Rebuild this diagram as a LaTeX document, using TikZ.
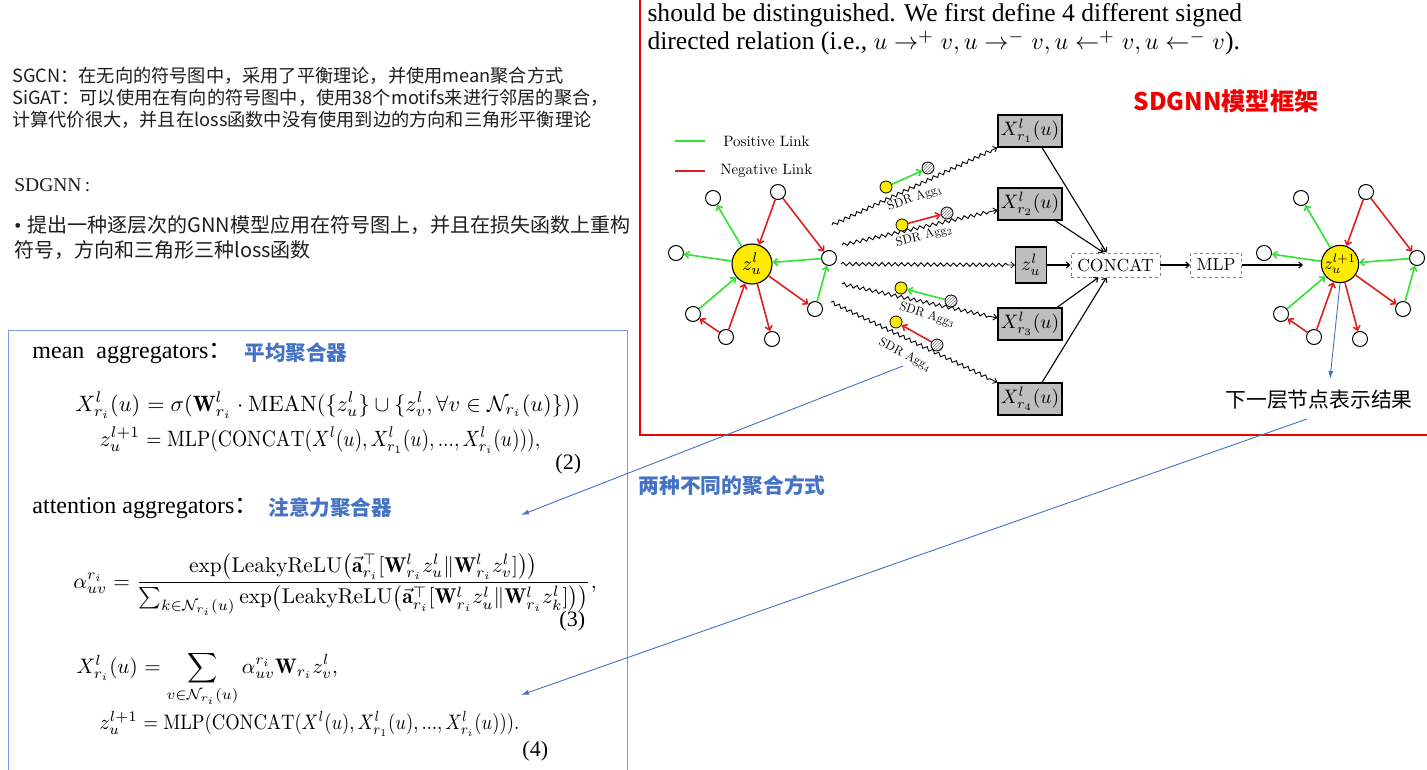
\documentclass[tikz,border=0pt]{standalone}
\usepackage{fontspec}
\usepackage{amsmath}
\usepackage{graphicx}
\usetikzlibrary{arrows.meta,decorations.pathmorphing,patterns,calc}
\newfontfamily\cjk{Noto Sans CJK SC}
\newfontfamily\tms{Liberation Serif}
\definecolor{txtgray}{RGB}{30,30,30}
\definecolor{myblue}{RGB}{68,114,196}
\definecolor{boxblue}{RGB}{120,155,225}
\definecolor{lgreen}{RGB}{50,225,50}
\definecolor{lred}{RGB}{225,30,30}
\definecolor{nodey}{RGB}{255,235,0}
\definecolor{boxgray}{RGB}{190,190,190}
\definecolor{titlered}{RGB}{240,0,0}

\newcommand\signgraph[4]{%
\begin{scope}[shift={(#2,0)}]
\node[ynode,minimum size=#3] (#1c) at (752,264) {#4};
\node[snode] (#1A) at (713,198) {};
\node[snode] (#1B) at (778,192) {};
\node[snode] (#1C) at (676,253) {};
\node[snode] (#1D) at (829,258) {};
\node[snode] (#1E) at (693,314) {};
\node[snode] (#1F) at (815,309) {};
\node[snode] (#1G) at (726,337) {};
\node[snode] (#1H) at (772,339) {};
\end{scope}
\draw[posedge] (#1c) -- (#1A);
\draw[posedge] (#1c) -- (#1C);
\draw[negedge] (#1B) -- (#1c);
\draw[negedge] (#1B) -- (#1D);
\draw[posedge] (#1D) -- (#1c);
\draw[posedge] (#1F) -- (#1D);
\draw[negedge] (#1c) -- (#1F);
\draw[negedge] (#1c) -- (#1H);
\draw[negedge] (#1G) -- (#1c);
\draw[posedge] (#1E) -- (#1c);
\draw[negedge] (#1G) -- (#1E);
}

\begin{document}
\begin{tikzpicture}[x=1pt,y=-1pt,
  txt/.style={anchor=west,inner sep=0pt},
  lhs/.style={anchor=base west,inner sep=0pt},
  rhs/.style={anchor=base west,inner sep=0pt},
  ynode/.style={circle,draw,line width=1.1pt,fill=nodey,inner sep=0pt},
  snode/.style={circle,draw,line width=1pt,fill=white,inner sep=0pt,minimum size=15pt},
  posedge/.style={draw=lgreen,line width=1.6pt,-{Straight Barb[length=4pt,width=7pt]}},
  negedge/.style={draw=lred,line width=1.6pt,-{Straight Barb[length=4pt,width=7pt]}},
  gbox/.style={draw,line width=1.1pt,fill=boxgray,inner sep=0pt,minimum width=64pt,minimum height=32pt},
  dbox/.style={draw=gray,dashed,line width=0.9pt,inner sep=0pt,minimum height=24pt},
  blk/.style={line width=1.1pt,-{Straight Barb[length=3.5pt,width=6pt]}},
  wavy/.style={decorate,decoration={snake,amplitude=1.7pt,segment length=6.5pt,post length=6pt},line width=0.9pt,-{Straight Barb[length=3.5pt,width=6pt]}},
  ysm/.style={circle,draw,line width=0.8pt,fill=nodey,inner sep=0pt,minimum size=12pt},
  hsm/.style={circle,draw,line width=0.8pt,inner sep=0pt,minimum size=12pt,pattern=north east lines,pattern color=gray},
  barrow/.style={draw=myblue,line width=0.9pt,-{Latex[length=8pt,width=5pt]}},
]
\fill[white] (0,0) rectangle (1427,770);
\useasboundingbox (0,0) rectangle (1427,770);

% frames
\draw[titlered,line width=1.3pt] (640,-5) -- (640,435) -- (1432,435);
\draw[boxblue,line width=1pt] (8,775) -- (8,330) -- (627,330) -- (627,775);

% top-left text
\node[txt,scale=1.82,text=txtgray] (t1) at (12,76) {\cjk SGCN：在无向的符号图中，采用了平衡理论，并使用mean聚合方式};
\node[txt,scale=1.82,text=txtgray] (t2) at (12,98) {\cjk SiGAT：可以使用在有向的符号图中，使用38个motifs来进行邻居的聚合，};
\node[txt,scale=1.82,text=txtgray] (t3) at (12,120) {\cjk 计算代价很大，并且在loss函数中没有使用到边的方向和三角形平衡理论};
\node[txt,scale=1.95,text=txtgray] (t4) at (14,185) {\tms SDGNN\,:};
\node[txt,scale=2.0,text=txtgray] (t5) at (14,225) {{\tms •}\hspace{0.3em}\cjk 提出一种逐层次的GNN模型应用在符号图上，并且在损失函数上重构};
\node[txt,scale=2.0,text=txtgray] (t6) at (14,250) {\cjk 符号，方向和三角形三种loss函数};

% top paragraph
\node[txt,scale=2.56] (p1) at (647,15) {\tms should be distinguished. We first define 4 different signed};
\node[txt,scale=2.56] (p2) at (647,43) {\tms directed relation (i.e., \scalebox{0.94}{$u\rightarrow^{+} v, u\rightarrow^{-} v, u\leftarrow^{+} v, u\leftarrow^{-} v$}).};

\node[txt,scale=2.43,text=titlered] (title) at (1133,101) {\cjk\bfseries SDGNN模型框架};

% legend
\coordinate (lg1a) at (675,141); \coordinate (lg1b) at (705,141);
\coordinate (lg2a) at (675,171); \coordinate (lg2b) at (705,171);
\draw[lgreen,line width=2pt] (lg1a) -- (lg1b);
\draw[lred,line width=2pt] (lg2a) -- (lg2b);
\node[txt,scale=1.5] (lgp) at (723,141) {Positive Link};
\node[txt,scale=1.5] (lgn) at (720,171) {Negative Link};

% graphs
\signgraph{L}{0}{40pt}{\scalebox{2}{$z^l_u$}}
\signgraph{R}{588}{34pt}{\scalebox{1.75}{$z^{l+1}_u$}}

% middle boxes
\node[gbox] (X1) at (1030,131) {\scalebox{1.95}{$X^l_{r_1}(u)$}};
\node[gbox] (X2) at (1030,204) {\scalebox{1.95}{$X^l_{r_2}(u)$}};
\node[gbox,minimum width=31pt,minimum height=36pt] (Zb) at (1031,265) {\scalebox{1.95}{$z^l_u$}};
\node[gbox] (X3) at (1030,324) {\scalebox{1.95}{$X^l_{r_3}(u)$}};
\node[gbox] (X4) at (1030,399) {\scalebox{1.95}{$X^l_{r_4}(u)$}};
\node[dbox,minimum width=89pt] (CC) at (1115.5,265) {\scalebox{1.75}{CONCAT}};
\node[dbox,minimum width=51pt] (MLP) at (1216,265) {\scalebox{1.75}{MLP}};

\draw[blk] ($(X1.south)+(12,0)$) -- ($(CC.north)+(-9,0)$);
\draw[blk] ($(X2.south)+(25,0)$) -- ($(CC.north)+(-12,0)$);
\draw[blk] (Zb) -- (CC);
\draw[blk] ($(X3.north)+(27,0)$) -- ($(CC.south)+(-17,0)$);
\draw[blk] ($(X4.north)+(12,0)$) -- ($(CC.south)+(-9,0)$);
\draw[blk] (CC) -- (MLP);
\coordinate (mlpend) at (1303,265);
\draw[blk] (MLP) -- (mlpend);

% wavy aggregations
\coordinate (w1) at (832,225);
\coordinate (w2) at (842,245);
\coordinate (w0) at (841,264);
\coordinate (w3) at (842,284);
\coordinate (w4) at (831,302);
\draw[wavy] (w1) -- (X1.south west);
\draw[wavy] (w2) -- ($(X2.west)+(0,6)$);
\draw[wavy] (w0) -- (Zb.west);
\draw[wavy] (w3) -- ($(X3.west)+(0,-6)$);
\draw[wavy] (w4) -- (X4.north west);

\node[ysm] (y1) at (886,187) {}; \node[hsm] (h1) at (928,168) {}; \draw[posedge] (y1) -- (h1);
\node[ysm] (y2) at (902,225) {}; \node[hsm] (h2) at (947,213) {}; \draw[negedge] (y2) -- (h2);
\node[ysm] (y3) at (901,288) {}; \node[hsm] (h3) at (951,301) {}; \draw[posedge] (h3) -- (y3);
\node[ysm] (y4) at (896,322) {}; \node[hsm] (h4) at (937,345) {}; \draw[negedge] (h4) -- (y4);

\node[rotate=19,scale=1.25,inner sep=0] (a1) at (915,198) {SDR Agg$_1$};
\node[rotate=14,scale=1.25,inner sep=0] (a2) at (924,236) {SDR Agg$_2$};
\node[rotate=-18,scale=1.25,inner sep=0] (a3) at (927,315) {SDR Agg$_3$};
\node[rotate=-28,scale=1.25,inner sep=0] (a4) at (905,355) {SDR Agg$_4$};

% blue annotations
\node[txt,scale=2.08] (lbl) at (1225,400) {\cjk 下一层节点表示结果};
\node[txt,scale=2.08,text=myblue] (two) at (638,485) {\cjk\bfseries 两种不同的聚合方式};
\coordinate (b1s) at (903,366); \coordinate (b1e) at (521,515);
\coordinate (b2s) at (1307,419); \coordinate (b2e) at (521,695);
\coordinate (b3e) at (1330,379);
\draw[barrow] (b1s) -- (b1e);
\draw[barrow] (b2s) -- (b2e);
\draw[barrow] (Rc.south) -- (b3e);

% blue box content
\node[txt,scale=2.4] (m1) at (32,353) {\tms mean\ \ aggregators{\cjk ：}};
\node[txt,scale=2.06,text=myblue] (m1c) at (244,353) {\cjk\bfseries 平均聚合器};

% equation (2)
\node[lhs,scale=2.22] (e2a) at (75,411) {$X^l_{r_i}(u)$};
\node[rhs,scale=2.22] (e2b) at (e2a.base east) {${}= \sigma(\mathbf{W}^l_{r_i}\cdot\mathrm{MEAN}(\{z^l_u\}\cup\{z^l_v,\forall v\in\mathcal{N}_{r_i}(u)\}))$};
\path (e2a.base east) ++(0,35) coordinate (e2p);
\node[anchor=base east,inner sep=0pt,scale=2.22] (e2c) at (e2p) {$z^{l+1}_u$};
\node[rhs,xscale=1.95,yscale=2.22] (e2d) at (e2p) {${}= \mathrm{MLP}(\mathrm{CONCAT}(X^l(u),X^l_{r_1}(u),...,X^l_{r_i}(u))),$};
\node[txt,scale=2.2] (n2) at (555,464) {\tms (2)};

\node[txt,scale=2.4] (m2) at (32,508) {\tms attention aggregators{\cjk ：}};
\node[txt,scale=2.06,text=myblue] (m2c) at (268,508) {\cjk\bfseries 注意力聚合器};

% equation (3)
\node[txt,scale=2.14] (eq3) at (73,585) {$\displaystyle \alpha^{r_i}_{uv}=\frac{\exp\bigl(\mathrm{LeakyReLU}\bigl(\vec{\mathbf{a}}^{\top}_{r_i}[\mathbf{W}^l_{r_i}z^l_u\|\mathbf{W}^l_{r_i}z^l_v]\bigr)\bigr)}{\sum_{k\in\mathcal{N}_{r_i}(u)}\exp\bigl(\mathrm{LeakyReLU}\bigl(\vec{\mathbf{a}}^{\top}_{r_i}[\mathbf{W}^l_{r_i}z^l_u\|\mathbf{W}^l_{r_i}z^l_k]\bigr)\bigr)},$};
\node[txt,scale=2.2] (n3) at (559,621) {\tms (3)};

% equation (4)
\node[lhs,scale=2.1] (e4a) at (76,673) {$X^l_{r_i}(u)$};
\node[rhs,scale=2.1] (e4b) at (e4a.base east) {$\displaystyle {}= \sum_{v\in\mathcal{N}_{r_i}(u)}\alpha^{r_i}_{uv}\mathbf{W}_{r_i}z^l_v,$};
\path (e4a.base east) ++(0,56) coordinate (e4p);
\node[anchor=base east,inner sep=0pt,scale=2.1] (e4c) at (e4p) {$z^{l+1}_u$};
\node[rhs,xscale=1.86,yscale=2.1] (e4d) at (e4p) {${}= \mathrm{MLP}(\mathrm{CONCAT}(X^l(u),X^l_{r_1}(u),...,X^l_{r_i}(u))).$};
\node[txt,scale=2.2] (n4) at (522,751) {\tms (4)};
\end{tikzpicture}
\end{document}
